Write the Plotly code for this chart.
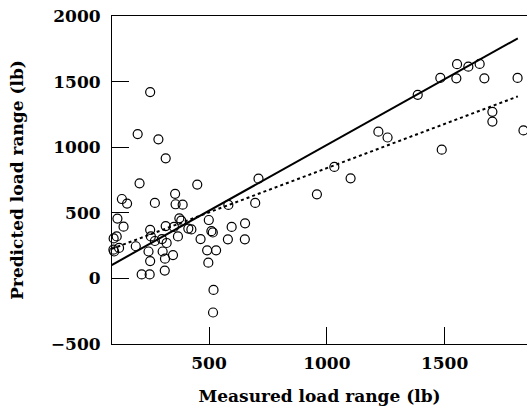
import plotly.graph_objects as go

# Measured (x) and predicted (y) load range, lb
measured = [250, 197, 285, 316, 205, 450, 710, 356, 130, 152, 270, 358, 388, 582, 696,
            111, 137, 86, 95, 108, 97, 94, 118, 189, 250, 253, 270, 300, 316, 351,
            374, 382, 368, 320, 243, 303, 250, 313, 347, 214, 248, 312, 412, 425, 464,
            499, 510, 516, 492, 530, 497, 596, 653, 580, 652, 519, 517,
            1032, 1101, 958, 1219, 1258, 1386, 1482, 1553, 1550, 1601, 1649, 1669,
            1810, 1703, 1703, 1488, 1835]
predicted = [1420, 1100, 1060, 915, 725, 715, 760, 645, 605, 570, 575, 565, 562, 560, 575,
             456, 394, 370, 305, 320, 205, 219, 232, 245, 370, 320, 285, 300, 399, 392,
             458, 440, 320, 270, 205, 205, 132, 150, 178, 30, 30, 60, 380, 373, 300,
             445, 360, 350, 214, 214, 120, 392, 420, 298, 298, -88, -260,
             850, 763, 641, 1118, 1074, 1399, 1528, 1633, 1525, 1614, 1635, 1525,
             1528, 1270, 1195, 981, 1128]

fit_x = [87, 1811]
solid_y = [102, 1830]
dotted_y = [225, 1387]

x_ticks = [500, 1000, 1500]
y_ticks = [-500, 0, 500, 1000, 1500, 2000]

FONT = "DejaVu Serif"

fig = go.Figure()
fig.add_trace(go.Scatter(x=fit_x, y=solid_y, mode="lines",
                         line=dict(color="black", width=2), cliponaxis=False))
fig.add_trace(go.Scatter(x=fit_x, y=dotted_y, mode="lines",
                         line=dict(color="black", width=2, dash="dot"), cliponaxis=False))
fig.add_trace(go.Scatter(x=measured, y=predicted, mode="markers",
                         marker=dict(symbol="circle-open", size=9, color="black",
                                     line=dict(width=1.2, color="black")),
                         cliponaxis=False))

fig.update_layout(
    width=527, height=413,
    margin=dict(l=112, r=0, t=16, b=69),
    paper_bgcolor="white", plot_bgcolor="white",
    showlegend=False,
    font=dict(family=FONT, size=17, color="black"),
)
fig.update_xaxes(
    range=[88, 1850], tickvals=x_ticks, ticks="inside", ticklen=17, tickwidth=1,
    tickcolor="black", showline=True, linecolor="black", linewidth=1, mirror=True,
    showgrid=False, zeroline=False, ticklabelstandoff=4, ticklabeloverflow="allow",
    tickfont=dict(family=FONT, size=17, weight="bold"),
    title=dict(text="<b>Measured load range (lb)</b>", font=dict(family=FONT, size=17), standoff=17),
    automargin=False,
)
fig.update_yaxes(
    range=[-500, 2000], tickvals=y_ticks, ticks="inside", ticklen=17, tickwidth=1,
    tickcolor="black", showline=True, linecolor="black", linewidth=1,
    showgrid=False, zeroline=False, ticklabelstandoff=7, ticklabeloverflow="allow",
    tickfont=dict(family=FONT, size=17, weight="bold"),
    title=dict(text="<b>Predicted load range (lb)</b>", font=dict(family=FONT, size=17), standoff=22),
    automargin=False,
)
fig.write_html(
    "out.html",
    config={"displayModeBar": False},
    post_script="document.body.style.margin='0';document.body.style.overflow='hidden';",
)
